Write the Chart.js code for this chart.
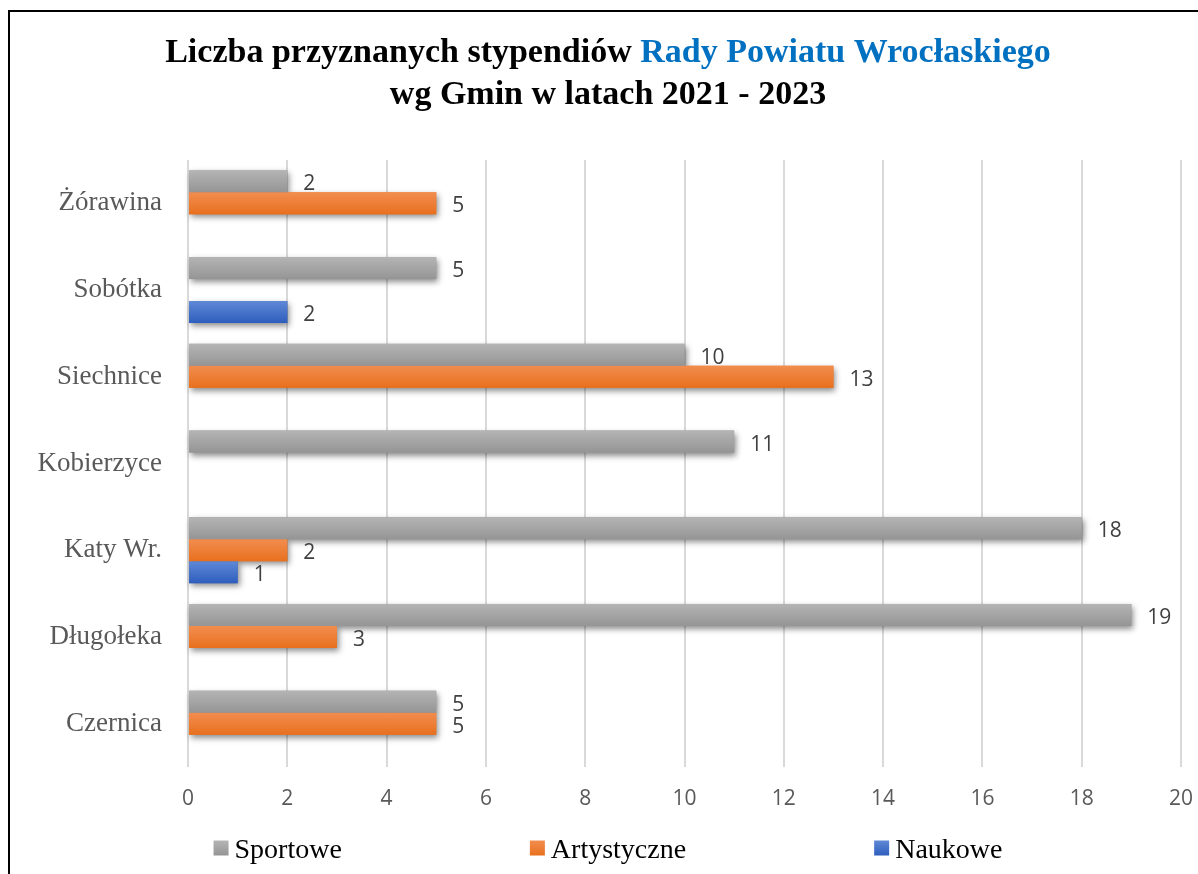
<!DOCTYPE html>
<html lang="pl">
<head>
<meta charset="utf-8">
<title>Stypendia Rady Powiatu Wrocławskiego</title>
<script src="https://cdn.jsdelivr.net/npm/chart.js@4/dist/chart.umd.min.js"></script>
<style>
  html, body { margin: 0; padding: 0; background: #fff; overflow: hidden; }
  #frame {
    position: absolute; left: 8px; top: 10px;
    width: 1300px; height: 1000px;
    border: 2px solid #000; box-sizing: border-box;
  }
  #wrap { position: absolute; left: 0; top: 0; width: 1198px; height: 874px; }
</style>
</head>
<body>
<div id="frame"></div>
<div id="wrap"><canvas id="chart"></canvas></div>
<script>
// Gminy, top to bottom as in the picture
const gminy = ['Żórawina', 'Sobótka', 'Siechnice', 'Kobierzyce', 'Katy Wr.', 'Długołeka', 'Czernica'];

// Number of scholarships per gmina (null = none awarded)
const sportowe = [2, 5, 10, 11, 18, 19, 5];
const artystyczne = [5, null, 13, null, 2, 3, 5];
const naukowe = [null, 2, null, null, 1, null, null];

const seriesNames = ['Sportowe', 'Artystyczne', 'Naukowe'];

// Value axis
const xMin = 0;
const xMax = 20;
const xStep = 2;

const titleLine1 = 'Liczba przyznanych stypendiów ';
const titleLine1Blue = 'Rady Powiatu Wrocłaskiego';
const titleLine2 = 'wg Gmin w latach 2021 - 2023';

// top / bottom colours of the Excel-like gradient fill
const fills = [
  ['#b4b4b4', '#959595'],
  ['#f28d4f', '#e8701e'],
  ['#5f88d6', '#2e5ebd'],
];

const serif = "'Liberation Serif', 'Times New Roman', serif";
const sans = "'Open Sans', 'DejaVu Sans', sans-serif";

function barGradient(ctx, top, bottom, pair) {
  const g = ctx.createLinearGradient(0, top, 0, bottom);
  g.addColorStop(0, pair[0]);
  g.addColorStop(1, pair[1]);
  return g;
}

// Gradient fill and soft shadow under every bar
const barStyle = {
  id: 'barStyle',
  beforeDatasetsDraw(chart) {
    const { ctx } = chart;
    const metas = chart.getSortedVisibleDatasetMetas();
    ctx.save();
    ctx.shadowColor = 'rgba(0, 0, 0, 0.45)';
    ctx.shadowBlur = 6;
    ctx.shadowOffsetX = 2;
    ctx.shadowOffsetY = 3;
    metas.forEach((meta) => {
      meta.data.forEach((bar, i) => {
        if (meta.controller.getDataset().data[i] == null) return;
        const top = bar.y - bar.height / 2;
        ctx.fillStyle = fills[meta.index][1];
        ctx.fillRect(bar.base, top, bar.x - bar.base, bar.height);
      });
    });
    ctx.restore();

    metas.forEach((meta) => {
      meta.data.forEach((bar) => {
        const top = bar.y - bar.height / 2;
        const grad = barGradient(ctx, top, top + bar.height, fills[meta.index]);
        bar.options = Object.assign({}, bar.options, { backgroundColor: grad });
      });
    });
  },
};

// Value labels right of the bar ends
const valueLabels = {
  id: 'valueLabels',
  afterDatasetsDraw(chart) {
    const { ctx } = chart;
    ctx.save();
    ctx.font = `21px ${sans}`;
    ctx.fillStyle = '#404040';
    ctx.textAlign = 'left';
    ctx.textBaseline = 'middle';
    chart.getSortedVisibleDatasetMetas().forEach((meta) => {
      const values = meta.controller.getDataset().data;
      meta.data.forEach((bar, i) => {
        if (values[i] == null) return;
        ctx.fillText(String(values[i]), bar.x + 16, bar.y + 3);
      });
    });
    ctx.restore();
  },
};

// Two-line title with the blue part
const twoColourTitle = {
  id: 'twoColourTitle',
  afterDraw(chart) {
    const { ctx } = chart;
    const cx = 608;
    ctx.save();
    ctx.font = `bold 34px ${serif}`;
    ctx.textBaseline = 'alphabetic';
    ctx.textAlign = 'left';
    const w1 = ctx.measureText(titleLine1).width;
    const w2 = ctx.measureText(titleLine1Blue).width;
    const x = cx - (w1 + w2) / 2;
    ctx.fillStyle = '#000000';
    ctx.fillText(titleLine1, x, 62);
    ctx.fillStyle = '#0070c0';
    ctx.fillText(titleLine1Blue, x + w1, 62);
    ctx.fillStyle = '#000000';
    ctx.textAlign = 'center';
    ctx.fillText(titleLine2, cx, 104);
    ctx.restore();
  },
};

// Legend spread out like in Excel
const spreadLegend = {
  id: 'spreadLegend',
  afterDraw(chart) {
    const { ctx } = chart;
    const box = 15;
    const gap = 6;
    const spacing = 188;
    const cy = 848;
    ctx.save();
    ctx.font = `28px ${serif}`;
    const widths = chart.data.datasets.map((ds) => box + gap + ctx.measureText(ds.label).width);
    const total = widths.reduce((a, b) => a + b, 0) + spacing * (widths.length - 1);
    let x = 608 - total / 2;
    chart.data.datasets.forEach((ds, i) => {
      ctx.fillStyle = barGradient(ctx, cy - box / 2, cy + box / 2, fills[i]);
      ctx.fillRect(x, cy - box / 2, box, box);
      ctx.fillStyle = '#000000';
      ctx.textBaseline = 'middle';
      ctx.textAlign = 'left';
      ctx.fillText(ds.label, x + box + gap, cy + 3);
      x += widths[i] + spacing;
    });
    ctx.restore();
  },
};

const chart = new Chart(document.getElementById('chart').getContext('2d'), {
  type: 'bar',
  data: {
    labels: gminy,
    datasets: [
      { label: seriesNames[0], data: sportowe, backgroundColor: fills[0][0] },
      { label: seriesNames[1], data: artystyczne, backgroundColor: fills[1][0] },
      { label: seriesNames[2], data: naukowe, backgroundColor: fills[2][0] },
    ],
  },
  options: {
    indexAxis: 'y',
    responsive: true,
    maintainAspectRatio: false,
    animation: false,
    categoryPercentage: 0.76,
    barPercentage: 1.0,
    layout: {
      padding: { top: 160, left: 0, right: 17, bottom: 0 },
    },
    plugins: {
      legend: { display: false },
      title: { display: false },
      tooltip: { enabled: false },
    },
    scales: {
      x: {
        min: xMin,
        max: xMax,
        ticks: {
          stepSize: xStep,
          color: '#595959',
          font: { family: sans, size: 21 },
          padding: 19,
        },
        grid: { color: '#d9d9d9', lineWidth: 2, drawTicks: false },
        border: { display: false },
        afterFit: (scale) => {
          scale.height = 107;
          scale.paddingLeft = 0;
          scale.paddingRight = 0;
        },
      },
      y: {
        ticks: {
          color: '#595959',
          font: { family: serif, size: 27 },
          padding: 26,
        },
        grid: { display: false, drawTicks: false },
        border: { display: false },
        afterFit: (scale) => {
          scale.width = 188;
          scale.paddingTop = 0;
          scale.paddingBottom = 0;
        },
      },
    },
  },
  plugins: [barStyle, valueLabels, twoColourTitle, spreadLegend],
});
</script>
</body>
</html>
